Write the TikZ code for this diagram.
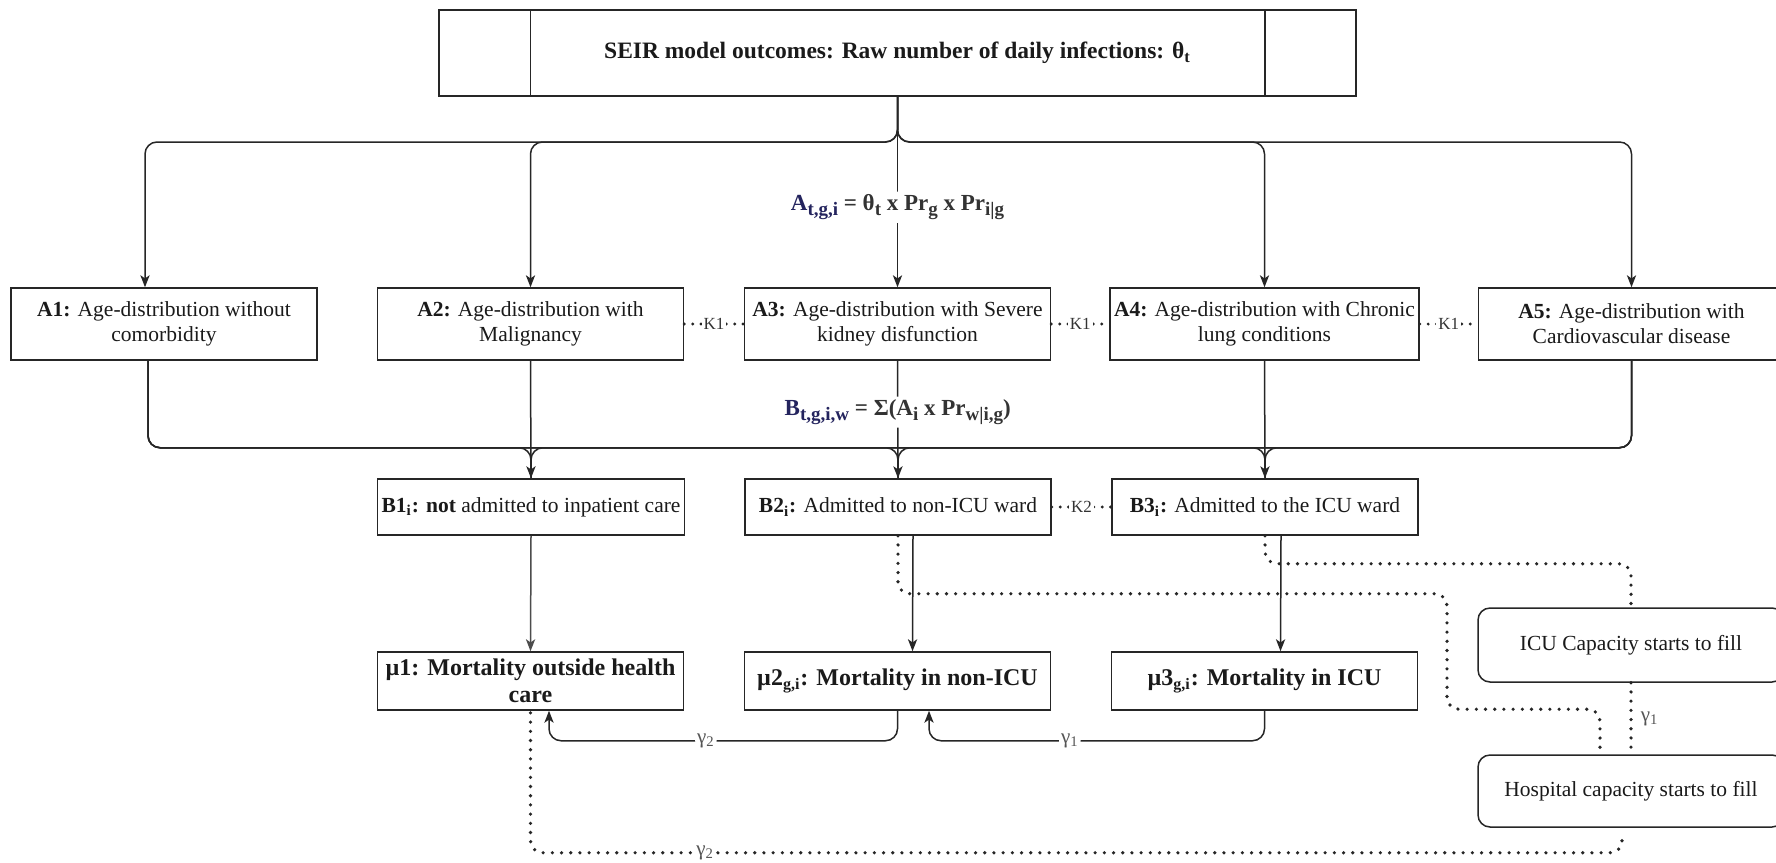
\documentclass[tikz,border=0pt]{standalone}
\usepackage{fontspec}
\setmainfont{Liberation Serif}
\usetikzlibrary{arrows.meta,calc}
\definecolor{navy}{HTML}{24245E}
\definecolor{txt}{HTML}{1A1A1A}
\definecolor{frm}{HTML}{333333}
\definecolor{lbl}{HTML}{555555}
\newcommand{\fsub}[1]{\raisebox{-0.45ex}{\fontsize{9.5}{10}\selectfont #1}}
\begin{document}
\begin{tikzpicture}[x=0.5pt,y=-0.5pt,
  box/.style={draw=black!85, line width=0.75pt, fill=white, align=center, inner sep=2pt, text=txt, font=\fontsize{10.75}{12.5}\selectfont},
  abox/.style={box, minimum width=153pt, minimum height=36pt},
  bbox/.style={box, minimum width=153pt, minimum height=28pt},
  mbox/.style={box, minimum width=153pt, minimum height=29pt, font=\bfseries\fontsize{12}{13.5}\selectfont},
  rbox/.style={box, rounded corners=6pt, minimum width=153pt, minimum height=36pt},
  conn/.style={draw=black!85, line width=0.75pt, rounded corners=6pt},
  arr/.style={conn, -{Stealth[length=6pt,width=4.6pt,inset=1.6pt]}},
  dotl/.style={draw=black!85, line width=1.8pt, line cap=round, dash pattern=on 0pt off 4.6pt, rounded corners=6pt},
  dotk/.style={draw=black!85, line width=1.6pt, line cap=round, dash pattern=on 0pt off 4.2pt},
  kl/.style={fill=white, inner sep=1pt, text=frm, font=\fontsize{8.5}{10}\selectfont},
  gl/.style={fill=white, inner sep=1pt, text=lbl, font=\fontsize{10.5}{12}\selectfont},
  fl/.style={fill=white, inner sep=1.5pt, text=frm, font=\bfseries\fontsize{11.5}{13}\selectfont},
]
\useasboundingbox (0,0) rectangle (1776,862);
\clip (0,0) rectangle (1776,862);
\fill[white] (0,0) rectangle (1776,862);

% top node
\node[box, minimum width=458.5pt, minimum height=43pt, font=\bfseries\fontsize{11.75}{13}\selectfont] (top) at (897.5,53) {SEIR model outcomes: Raw number of daily infections: θ\textsubscript{t}};
\draw[line width=0.75pt, black!85] ($(top.north west)+(92,0)$) -- ($(top.south west)+(92,0)$);
\draw[line width=0.75pt, black!85] ($(top.north east)+(-92,0)$) -- ($(top.south east)+(-92,0)$);

% A nodes
\node[abox] (a1) at (164,324) {\textbf{A1:} Age-distribution without\\comorbidity};
\node[abox] (a2) at (530.5,324) {\textbf{A2:} Age-distribution with\\Malignancy};
\node[abox] (a3) at (897.5,324) {\textbf{A3:} Age-distribution with Severe\\kidney disfunction};
\node[abox] (a4) at (1264.5,324) {\textbf{A4:} Age-distribution with Chronic\\lung conditions};
\node[abox] (a5) at (1631.5,324) {\textbf{A5:} Age-distribution with\\Cardiovascular disease};

% B nodes
\node[bbox] (b1) at (531,507) {\textbf{B1\textsubscript{i}: not} admitted to inpatient care};
\node[bbox] (b2) at (898,507) {\textbf{B2\textsubscript{i}:} Admitted to non-ICU ward};
\node[bbox] (b3) at (1265,507) {\textbf{B3\textsubscript{i}:} Admitted to the ICU ward};

% mu nodes
\node[mbox] (m1) at (530.5,681) {µ1: Mortality outside health\\care};
\node[mbox] (m2) at (897.5,681) {µ2\textsubscript{g,i}: Mortality in non-ICU};
\node[mbox] (m3) at (1264.5,681) {µ3\textsubscript{g,i}: Mortality in ICU};

% capacity nodes
\node[rbox, minimum height=37pt] (icu) at (1631,645) {ICU Capacity starts to fill};
\node[rbox] (hosp) at (1631,791) {Hospital capacity starts to fill};

% top bus
\coordinate (bus) at (897.5,142);
\draw[arr] (top.south) -- (bus) -| ($(a1.north)+(-19,0)$);
\draw[arr] (top.south) -- (bus) -| (a2.north);
\draw[arr] (top.south) -- (bus) -| (a4.north);
\draw[arr] (top.south) -- (bus) -| (a5.north);
\draw[arr] (top.south) -- (a3.north) node[fl, pos=0.58] (fa) {{\color{navy}A\fsub{t,g,i}} = θ\fsub{t} x Pr\fsub{g} x Pr\fsub{i|g}};

% bottom bus
\draw[conn] ($(a1.south)+(-16,0)$) -- ++(0,87) -| (b1.north);
\draw[conn] ($(a1.south)+(-16,0)$) -- ++(0,87) -| (b2.north);
\draw[conn] ($(a1.south)+(-16,0)$) -- ++(0,87) -| (b3.north);
\draw[conn] (a5.south) -- ++(0,87) -| (b1.north);
\draw[conn] (a5.south) -- ++(0,87) -| (b2.north);
\draw[conn] (a5.south) -- ++(0,87) -| (b3.north);
\draw[arr] (a2.south) -- (b1.north);
\draw[arr] (a4.south) -- (b3.north);
\draw[arr] (a3.south) -- (b2.north) node[fl, pos=0.437] (fb) {{\color{navy}B\fsub{t,g,i,w}} = Σ(A\fsub{i} x Pr\fsub{w|i,g})};

% K links
\draw[dotk] (a2.east) -- (a3.west) node[kl, midway] (k1a) {K1};
\draw[dotk] (a3.east) -- (a4.west) node[kl, midway] (k1b) {K1};
\draw[dotk] (a4.east) -- (a5.west) node[kl, midway] (k1c) {K1};
\draw[dotk] (b2.east) -- (b3.west) node[kl, midway] (k2) {K2};

% B to mu
\draw[arr, draw=black!70] (b1.south) -- (m1.north);
\draw[arr] ($(b2.south)+(15,0)$) -- ($(m2.north)+(15,0)$);
\draw[arr] ($(b3.south)+(16,0)$) -- ($(m3.north)+(16,0)$);

% dotted capacity links
\draw[dotl] (b3.south) -- ++(0,28) -| (icu.north);
\draw[dotl] (b2.south) -- ++(0,58) -| ($(hosp.north)+(-184,-45)$) -| ($(hosp.north)+(-31,0)$);
\draw[dotl] (icu.south) -- (hosp.north) node[gl, fill=none, midway, right, xshift=3pt] (g1c) {γ\textsubscript{1}};
\draw[dotl] ($(hosp.south)+(-9,13)$) |- ($(m1.south)+(0,142)$) node[gl, pos=0.92] (g2c) {γ\textsubscript{2}} -- (m1.south);

% gamma arrows
\draw[arr] (m2.south) -- ++(0,30) -| ($(m1.south)+(18.5,0)$) node[gl, pos=0.275] (g2a) {γ\textsubscript{2}};
\draw[arr] (m3.south) -- ++(0,30) -| ($(m2.south)+(31.5,0)$) node[gl, pos=0.29] (g1a) {γ\textsubscript{1}};
\end{tikzpicture}
\end{document}
